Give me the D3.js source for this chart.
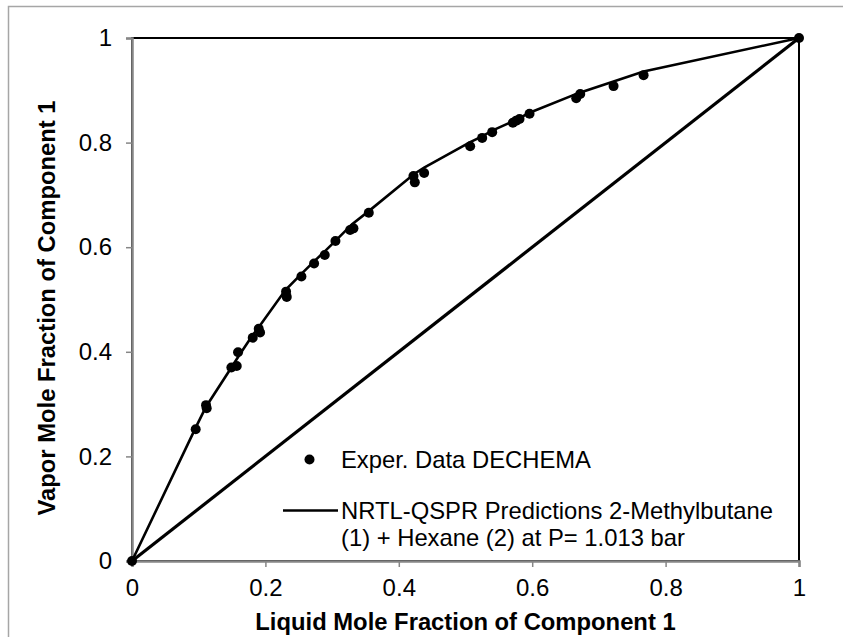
<!DOCTYPE html>
<meta charset="utf-8">
<style>
body { margin: 0; background: #fff; }
text { font-family: "Liberation Sans", Arial, sans-serif; fill: #000; }
.tick-label { font-size: 24px; }
.axis-title { font-size: 23.8px; font-weight: bold; }
.legend-text { font-size: 23.8px; }
</style>
<body>
<script src="https://d3js.org/d3.v7.min.js"></script>
<script>
// experimental points (DECHEMA)
var expX = [0, 0.0955, 0.111, 0.112, 0.149, 0.157, 0.159, 0.181, 0.190, 0.192, 0.231, 0.232, 0.254, 0.273, 0.289, 0.305, 0.327, 0.332, 0.355, 0.422, 0.424, 0.438, 0.507, 0.525, 0.540, 0.571, 0.576, 0.581, 0.596, 0.666, 0.672, 0.722, 0.767, 1];
var expY = [0, 0.252, 0.298, 0.292, 0.370, 0.373, 0.399, 0.427, 0.444, 0.437, 0.515, 0.505, 0.544, 0.569, 0.585, 0.612, 0.633, 0.636, 0.666, 0.736, 0.724, 0.742, 0.793, 0.809, 0.820, 0.838, 0.842, 0.845, 0.855, 0.885, 0.893, 0.908, 0.929, 1];

// NRTL-QSPR prediction line
var predX = [0, 0.0955, 0.111, 0.15, 0.16, 0.18, 0.19, 0.23, 0.254, 0.273, 0.289, 0.305, 0.33, 0.355, 0.423, 0.438, 0.507, 0.525, 0.54, 0.575, 0.596, 0.67, 0.722, 0.767, 1];
var predY = [0, 0.255, 0.295, 0.372, 0.392, 0.43, 0.447, 0.518, 0.549, 0.573, 0.592, 0.612, 0.644, 0.669, 0.740, 0.752, 0.801, 0.812, 0.823, 0.843, 0.857, 0.895, 0.917, 0.936, 1];

// x = y reference line
var diagX = [0, 1];
var diagY = [0, 1];

var ticks = [0, 0.2, 0.4, 0.6, 0.8, 1];
var legendLabels = ["Exper. Data DECHEMA", "NRTL-QSPR Predictions 2-Methylbutane", "(1) + Hexane (2) at P= 1.013 bar"];

var W = 843, H = 637;
var margin = {top: 38, right: 44, bottom: 76, left: 132},
    width = W - margin.left - margin.right,
    height = H - margin.top - margin.bottom;

var x = d3.scaleLinear().domain([0, 1]).range([0, width]);
var y = d3.scaleLinear().domain([0, 1]).range([height, 0]);

var svg = d3.select("body").append("svg")
    .attr("width", W)
    .attr("height", H);

// outer chart border
svg.append("rect")
    .attr("x", 8.5).attr("y", 6.5)
    .attr("width", 900).attr("height", 700)
    .attr("fill", "none")
    .attr("stroke", "#a6a6a6")
    .attr("stroke-width", 1.5);

var g = svg.append("g")
    .attr("transform", "translate(" + margin.left + "," + margin.top + ")");

// plot area border (top/right black)
g.append("rect")
    .attr("x", 0).attr("y", 0)
    .attr("width", width).attr("height", height)
    .attr("fill", "none")
    .attr("stroke", "#000")
    .attr("stroke-width", 2);

// axes
var fmt = function(d) { return d === 0 || d === 1 ? d : d3.format(".1f")(d); };
var yAxis = g.append("g")
    .call(d3.axisLeft(y).tickValues(ticks).tickSize(6).tickPadding(14).tickFormat(fmt));
var xAxis = g.append("g")
    .attr("transform", "translate(0," + height + ")")
    .call(d3.axisBottom(x).tickValues(ticks).tickSize(6).tickPadding(12).tickFormat(fmt));

[xAxis, yAxis].forEach(function(a) {
  a.select(".domain").attr("stroke", "#868686").attr("stroke-width", 2.5);
  a.selectAll(".tick line").attr("stroke", "#868686").attr("stroke-width", 1.5);
  a.selectAll(".tick text").attr("class", "tick-label").attr("font-size", null).attr("font-family", null);
});
xAxis.selectAll(".tick text").attr("dy", "0.71em");

// axis titles
svg.append("text")
    .attr("class", "axis-title")
    .attr("x", margin.left + width / 2)
    .attr("y", 630)
    .attr("text-anchor", "middle")
    .text("Liquid Mole Fraction of Component 1");

svg.append("text")
    .attr("class", "axis-title")
    .attr("transform", "translate(55," + 308 + ") rotate(-90)")
    .attr("text-anchor", "middle")
    .text("Vapor Mole Fraction of Component 1");

var line = d3.line()
    .x(function(d) { return x(d[0]); })
    .y(function(d) { return y(d[1]); });

// diagonal
g.append("path")
    .datum(d3.zip(diagX, diagY))
    .attr("d", line)
    .attr("fill", "none")
    .attr("stroke", "#000")
    .attr("stroke-width", 3.2);

// prediction curve
g.append("path")
    .datum(d3.zip(predX, predY))
    .attr("d", line)
    .attr("fill", "none")
    .attr("stroke", "#000")
    .attr("stroke-width", 2.6);

// experimental markers
g.selectAll(".dot")
    .data(d3.zip(expX, expY))
  .enter().append("circle")
    .attr("class", "dot")
    .attr("cx", function(d) { return x(d[0]); })
    .attr("cy", function(d) { return y(d[1]); })
    .attr("r", 5)
    .attr("fill", "#000");

// legend
var leg = svg.append("g");
leg.append("circle")
    .attr("cx", 309.5).attr("cy", 459.5).attr("r", 5).attr("fill", "#000");
leg.append("text")
    .attr("class", "legend-text")
    .attr("x", 341).attr("y", 467.5)
    .text(legendLabels[0]);
leg.append("line")
    .attr("x1", 283).attr("x2", 338)
    .attr("y1", 510.5).attr("y2", 510.5)
    .attr("stroke", "#000").attr("stroke-width", 2.6);
leg.append("text")
    .attr("class", "legend-text")
    .attr("x", 341).attr("y", 518.5)
    .text(legendLabels[1]);
leg.append("text")
    .attr("class", "legend-text")
    .attr("x", 341).attr("y", 545.5)
    .text(legendLabels[2]);
</script>
</body>
